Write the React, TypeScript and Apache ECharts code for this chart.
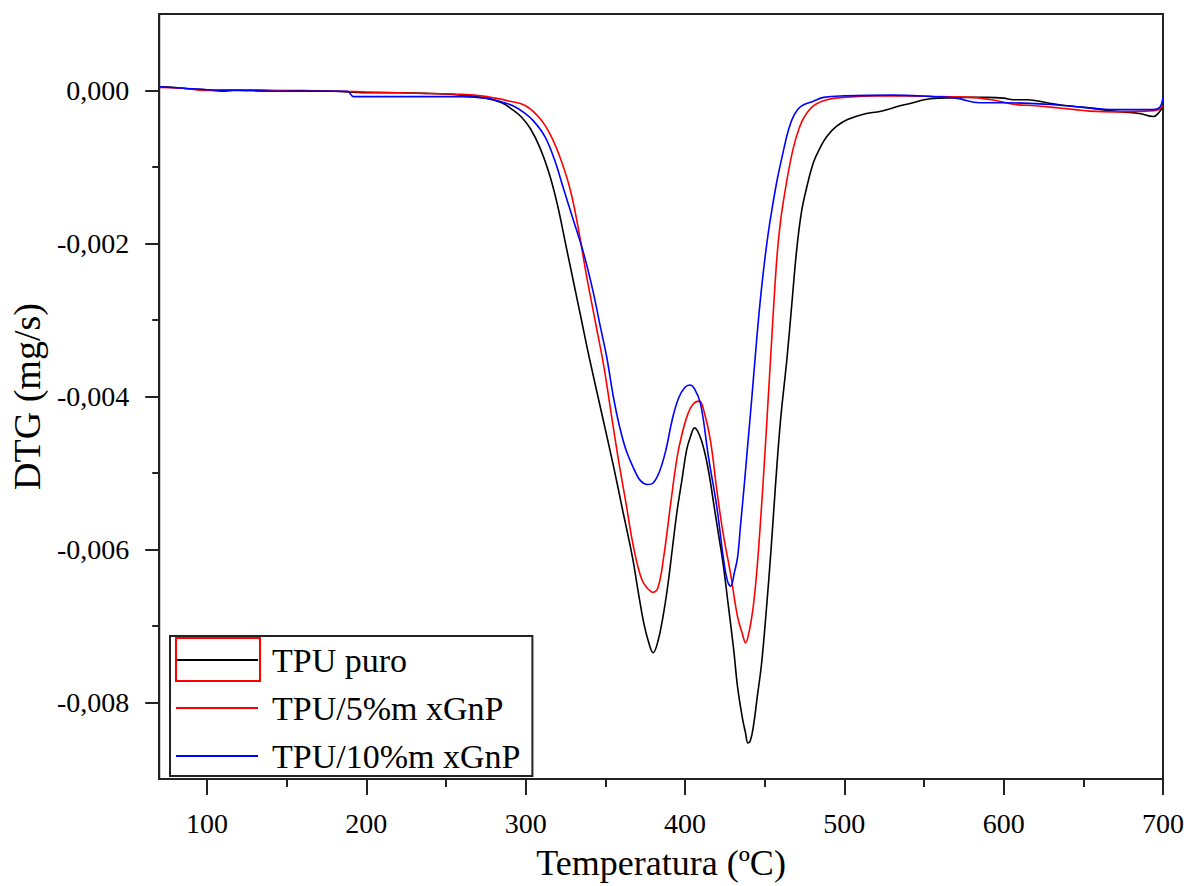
import React, { useEffect, useRef } from "react";
import * as echarts from "echarts";

const FONT = "Liberation Serif";

const SERIES_NAMES = ["TPU puro", "TPU/5%m xGnP", "TPU/10%m xGnP"];
const SERIES_COLORS = ["#000000", "#ff0000", "#0000ff"];

const X_MAJOR = [100, 200, 300, 400, 500, 600, 700];
const X_MINOR = [150, 250, 350, 450, 550, 650];
const Y_MAJOR = [-0.008, -0.006, -0.004, -0.002, 0];
const Y_MINOR = [-0.007, -0.005, -0.003, -0.001];

const tempPuro = [70, 80, 90, 100, 110, 120, 140, 160, 180, 200, 220, 240, 260, 275, 285, 291, 297, 303, 309, 315, 320, 325, 330, 335, 340, 347.5, 355, 361, 367, 371, 374, 377, 380, 383, 386, 389, 392, 395, 398, 401, 403.5, 406, 409, 412, 415, 418, 421, 424, 427, 430.5, 433, 436, 438, 439.5, 441, 443, 445.5, 448, 451, 454, 457, 460, 464, 467, 470, 473, 476, 480.6, 485, 489, 495, 502, 512, 523, 535, 543, 550, 560, 575, 590, 600, 606, 615, 627, 640, 655, 669, 685, 694, 697, 700];
const dtgPuro = [0.00005, 0.00004, 0.00002, 0.00001, -0.00001, 0.00001, 0.0, 0.0, -0.00001, -0.00003, -0.00003, -0.00004, -0.00006, -0.0001, -0.00016, -0.00024, -0.00034, -0.0005, -0.00075, -0.0011, -0.0015, -0.002, -0.0025, -0.003, -0.0035, -0.0042, -0.0049, -0.0055, -0.0061, -0.0066, -0.00695, -0.0072, -0.00735, -0.0072, -0.0069, -0.0065, -0.006, -0.0055, -0.0051, -0.0047, -0.00452, -0.00441, -0.0045, -0.0047, -0.005, -0.0054, -0.0058, -0.0062, -0.0067, -0.0073, -0.0078, -0.0082, -0.0084, -0.00853, -0.0085, -0.0083, -0.0079, -0.0075, -0.0068, -0.006, -0.0051, -0.0043, -0.0035, -0.0028, -0.0021, -0.0016, -0.0013, -0.00094, -0.00074, -0.0006, -0.00047, -0.00038, -0.00031, -0.00027, -0.0002, -0.00016, -0.00012, -0.0001, -0.00009, -0.00009, -0.0001, -0.00012, -0.00012, -0.00016, -0.0002, -0.00023, -0.00027, -0.0003, -0.00034, -0.0003, -0.0002];

const temp5 = [70, 85, 100, 120, 140, 160, 180, 200, 220, 240, 260, 272, 281, 290, 300, 309.5, 316, 322, 328, 333, 338, 343.5, 349, 353.5, 358, 363, 368, 373, 377, 379.7, 383, 386.6, 391, 395, 398, 401.6, 405, 409, 412, 416, 420, 424, 428.6, 433, 436, 438, 440, 442.5, 445, 447.5, 450, 452, 454, 456, 458, 460, 462.5, 465, 468, 471.5, 475, 480.6, 489, 500, 520, 540, 560, 580, 595, 606, 620, 631, 645, 654, 670, 690, 697, 700];
const dtg5 = [0.00004, 0.00003, 0.0, 0.00001, 0.0, -0.00001, -0.00001, -0.00002, -0.00003, -0.00004, -0.00005, -0.00007, -0.0001, -0.00014, -0.0002, -0.00038, -0.0006, -0.0009, -0.0013, -0.0018, -0.0024, -0.003, -0.0036, -0.0042, -0.0048, -0.0054, -0.006, -0.0064, -0.00652, -0.00656, -0.0065, -0.0061, -0.0054, -0.0048, -0.0045, -0.00424, -0.0041, -0.00406, -0.0042, -0.00458, -0.00523, -0.0058, -0.00632, -0.00688, -0.0071, -0.00722, -0.0071, -0.0068, -0.0063, -0.0056, -0.0048, -0.0041, -0.0034, -0.0027, -0.0021, -0.0017, -0.00135, -0.00105, -0.00075, -0.0005, -0.00034, -0.0002, -0.00012, -0.00009, -0.00007, -0.00007, -0.00008, -0.00009, -0.00013, -0.00018, -0.0002, -0.00022, -0.00025, -0.00027, -0.00028, -0.00027, -0.00025, -0.0002];

const temp10 = [70, 85, 100, 120, 150, 188, 192, 230, 260, 275, 285, 292, 299, 305, 312, 318, 324, 330, 336, 342, 347, 351, 355, 359, 363, 368, 372, 376.6, 380, 384, 388, 392, 396, 400, 403, 406, 409.8, 414.8, 420, 424, 426.5, 428.6, 431, 433, 434.9, 437, 439.5, 442, 444, 446.5, 449, 452, 455, 458, 461, 465, 468.5, 472.5, 480.6, 487, 500, 530, 555, 570, 585, 600, 627, 650, 669, 694, 698, 700];
const dtg10 = [0.00005, 0.00003, 0.00001, 0.0, -0.00001, -0.00001, -0.00008, -0.00008, -0.00008, -0.0001, -0.00015, -0.0002, -0.00029, -0.0004, -0.0006, -0.0009, -0.0013, -0.0017, -0.0021, -0.0026, -0.0031, -0.0035, -0.004, -0.0044, -0.0047, -0.00495, -0.0051, -0.00515, -0.00513, -0.00498, -0.0047, -0.0043, -0.00402, -0.00388, -0.00385, -0.0039, -0.0041, -0.0048, -0.00545, -0.0061, -0.0064, -0.00648, -0.0063, -0.0061, -0.00567, -0.0052, -0.0046, -0.004, -0.0035, -0.0029, -0.0024, -0.0019, -0.0015, -0.00115, -0.00086, -0.00051, -0.00032, -0.00021, -0.00014, -0.00009, -0.00007, -0.00006, -0.00008, -0.0001, -0.00016, -0.00016, -0.00018, -0.00022, -0.00025, -0.00025, -0.00022, -0.00009];

const pairs = (xs: number[], ys: number[]) => xs.map((x, i) => [x, ys[i]]);

const AXIS_COLOR = "#222222";

export default function App() {
  const ref = useRef<HTMLDivElement>(null);

  useEffect(() => {
    if (!ref.current) return;
    const chart = echarts.init(ref.current, null, { renderer: "svg" });
    const datasets = [pairs(tempPuro, dtgPuro), pairs(temp5, dtg5), pairs(temp10, dtg10)];
    const fmtY = (v: number) => v.toFixed(3).replace(".", ",");

    chart.setOption({
      animation: false,
      backgroundColor: "#ffffff",
      grid: {
        left: 158,
        right: 26,
        top: 14,
        bottom: 105,
        show: true,
        borderColor: AXIS_COLOR,
        borderWidth: 2,
        backgroundColor: "transparent",
      },
      xAxis: [
        {
          type: "value",
          min: 70,
          max: 700,
          position: "bottom",
          axisLine: { show: true, onZero: false, lineStyle: { color: AXIS_COLOR, width: 2 } },
          axisTick: { show: true, length: 16, lineStyle: { color: AXIS_COLOR, width: 2 }, customValues: X_MAJOR },
          axisLabel: { customValues: X_MAJOR, margin: 30, fontSize: 28, fontFamily: FONT, color: "#000" },
          splitLine: { show: false },
          name: "Temperatura (ºC)",
          nameLocation: "middle",
          nameGap: 66,
          nameTextStyle: { fontFamily: FONT, fontSize: 36, color: "#000" },
        },
        {
          type: "value",
          min: 70,
          max: 700,
          position: "bottom",
          axisLine: { show: false, onZero: false },
          axisTick: { show: true, length: 8, lineStyle: { color: AXIS_COLOR, width: 2 }, customValues: X_MINOR },
          axisLabel: { show: false, customValues: X_MINOR },
          splitLine: { show: false },
        },
      ],
      yAxis: [
        {
          type: "value",
          min: -0.009,
          max: 0.001,
          position: "left",
          axisLine: { show: true, onZero: false, lineStyle: { color: AXIS_COLOR, width: 2 } },
          axisTick: { show: true, length: 14, lineStyle: { color: AXIS_COLOR, width: 2 }, customValues: Y_MAJOR },
          axisLabel: { customValues: Y_MAJOR, margin: 30, fontSize: 28, fontFamily: FONT, color: "#000", formatter: fmtY },
          splitLine: { show: false },
          name: "DTG (mg/s)",
          nameLocation: "middle",
          nameGap: 108,
          nameRotate: 90,
          nameTextStyle: { fontFamily: FONT, fontSize: 38, color: "#000" },
        },
        {
          type: "value",
          min: -0.009,
          max: 0.001,
          position: "left",
          axisLine: { show: false, onZero: false },
          axisTick: { show: true, length: 7, lineStyle: { color: AXIS_COLOR, width: 2 }, customValues: Y_MINOR },
          axisLabel: { show: false, customValues: Y_MINOR },
          splitLine: { show: false },
        },
      ],
      legend: {
        show: true,
        orient: "vertical",
        left: 170,
        top: 636,
        padding: [7, 12, 3, 6],
        icon: "rect",
        itemWidth: 82,
        itemHeight: 2,
        itemGap: 14,
        borderColor: AXIS_COLOR,
        borderWidth: 2,
        backgroundColor: "#ffffff",
        selectedMode: false,
        textStyle: { fontFamily: FONT, fontSize: 34, color: "#000", padding: [0, 0, 0, 9] },
        data: SERIES_NAMES,
      },
      graphic: [
        {
          type: "rect",
          z: 200,
          shape: { x: 176, y: 638, width: 84, height: 43 },
          style: { fill: "none", stroke: "#ff0000", lineWidth: 2 },
        },
      ],
      series: SERIES_NAMES.map((name, i) => ({
        name,
        type: "line",
        xAxisIndex: 0,
        yAxisIndex: 0,
        data: datasets[i],
        showSymbol: false,
        symbol: "none",
        smooth: 0.4,
        lineStyle: { color: SERIES_COLORS[i], width: 1.6 },
        itemStyle: { color: SERIES_COLORS[i] },
        z: 2 + i,
      })),
    });

    return () => chart.dispose();
  }, []);

  return (
    <div
      ref={ref}
      style={{ position: "fixed", left: 0, top: 0, width: 1189, height: 886, background: "#fff" }}
    />
  );
}
